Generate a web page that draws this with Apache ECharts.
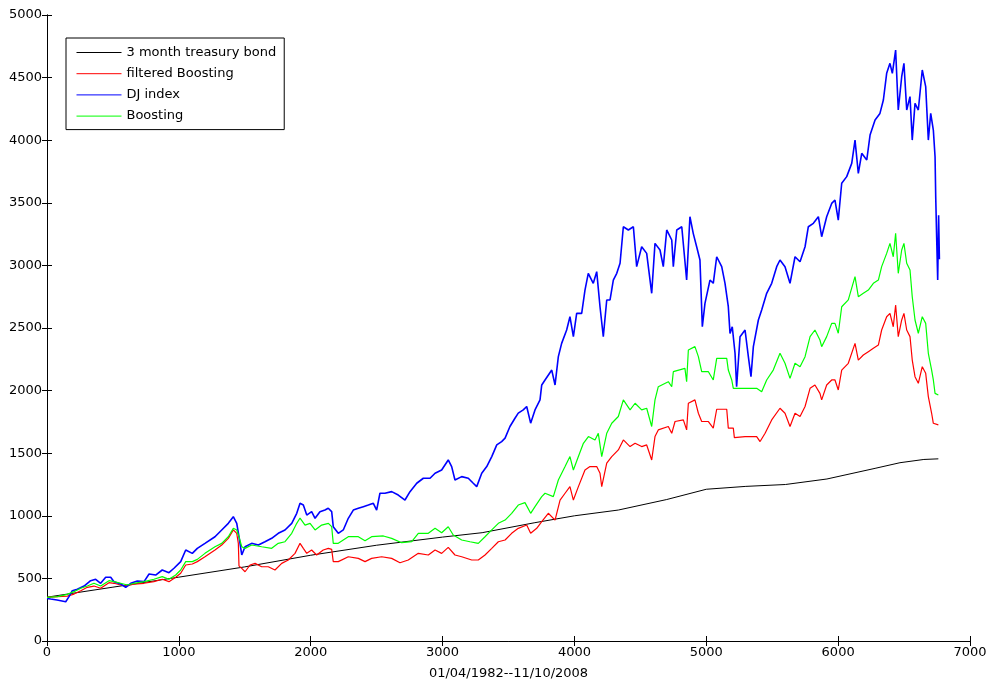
<!DOCTYPE html>
<html>
<head>
<meta charset="utf-8">
<script src="https://cdn.jsdelivr.net/npm/echarts@6/dist/echarts.min.js"></script>
<style>
  html, body { margin: 0; padding: 0; background: #fff; }
  #chart { width: 986px; height: 680px; }
</style>
</head>
<body>
<div id="chart"></div>
<script>
// Trading days since 01/04/1982 and portfolio values for each strategy
const seriesNames = ['3 month treasury bond', 'filtered Boosting', 'DJ index', 'Boosting'];
const xAxisTitle = '01/04/1982--11/10/2008';

const treasuryX = [0, 500, 1000, 1500, 2000, 2500, 3000, 3300, 3700, 4000, 4333, 4700, 5000, 5300, 5600, 5915, 6280, 6469, 6650, 6760];
const treasuryY = [350, 430, 510, 592, 685, 765, 830, 865, 945, 1000, 1046, 1130, 1212, 1235, 1250, 1294, 1379, 1424, 1450, 1455];

const djX = [0, 28, 76, 142, 167, 192, 230, 281, 331, 369, 407, 445, 483, 508, 559, 597, 635, 685, 736, 774, 824, 874, 925, 963, 1014, 1052, 1102, 1140, 1198, 1274, 1325, 1375, 1413, 1439, 1456, 1477, 1502, 1552, 1603, 1653, 1704, 1754, 1805, 1856, 1894, 1919, 1944, 1970, 2007, 2033, 2070, 2108, 2133, 2159, 2171, 2209, 2247, 2285, 2323, 2361, 2399, 2437, 2475, 2500, 2525, 2563, 2614, 2664, 2715, 2753, 2804, 2854, 2905, 2943, 2993, 3043, 3069, 3094, 3145, 3195, 3233, 3259, 3297, 3335, 3373, 3411, 3448, 3474, 3511, 3549, 3574, 3612, 3638, 3668, 3701, 3739, 3752, 3777, 3828, 3853, 3878, 3903, 3941, 3966, 3992, 4017, 4055, 4080, 4105, 4143, 4169, 4194, 4219, 4245, 4270, 4295, 4321, 4346, 4371, 4409, 4447, 4472, 4510, 4548, 4586, 4611, 4649, 4674, 4700, 4738, 4750, 4776, 4814, 4851, 4876, 4901, 4927, 4952, 4970, 4990, 5028, 5053, 5079, 5117, 5142, 5167, 5180, 5197, 5218, 5230, 5256, 5294, 5319, 5339, 5357, 5395, 5420, 5458, 5496, 5534, 5559, 5597, 5635, 5673, 5711, 5749, 5774, 5812, 5850, 5875, 5913, 5951, 5976, 6001, 6027, 6065, 6103, 6128, 6153, 6179, 6217, 6242, 6280, 6317, 6343, 6368, 6393, 6411, 6436, 6456, 6482, 6499, 6520, 6545, 6562, 6583, 6608, 6638, 6664, 6684, 6702, 6722, 6735, 6740, 6747, 6755, 6762, 6768];
const djY = [340, 335, 327, 314, 354, 402, 413, 439, 482, 493, 461, 509, 509, 474, 455, 429, 461, 479, 474, 535, 527, 567, 546, 581, 634, 727, 700, 740, 780, 833, 887, 940, 993, 940, 833, 687, 753, 780, 767, 793, 820, 860, 887, 940, 1020, 1100, 1086, 1006, 1033, 980, 1033, 1046, 1060, 1033, 913, 860, 887, 980, 1046, 1060, 1073, 1086, 1100, 1046, 1180, 1180, 1193, 1166, 1126, 1193, 1260, 1300, 1300, 1340, 1366, 1446, 1393, 1286, 1313, 1300, 1260, 1233, 1340, 1393, 1473, 1566, 1593, 1620, 1713, 1779, 1820, 1846, 1873, 1740, 1846, 1926, 2045, 2085, 2164, 2045, 2271, 2377, 2484, 2590, 2431, 2617, 2617, 2803, 2937, 2857, 2950, 2670, 2430, 2724, 2724, 2883, 2937, 3017, 3309, 3283, 3309, 2990, 3149, 3096, 2777, 3176, 3123, 2990, 3283, 3203, 2990, 3283, 3309, 2883, 3389, 3256, 3149, 3043, 2510, 2697, 2883, 2857, 3069, 2990, 2857, 2670, 2457, 2510, 2298, 2031, 2430, 2484, 2271, 2111, 2351, 2564, 2644, 2777, 2857, 2990, 3043, 2990, 2857, 3069, 3029, 3149, 3309, 3336, 3389, 3229, 3389, 3495, 3522, 3362, 3656, 3709, 3815, 4001, 3735, 3895, 3842, 4041, 4161, 4214, 4321, 4534, 4614, 4534, 4720, 4241, 4507, 4614, 4241, 4348, 4001, 4294, 4241, 4561, 4428, 4001, 4214, 4081, 3868, 3549, 3229, 2883, 3400, 3050];

const fboostX = [0, 78, 154, 205, 256, 306, 356, 407, 470, 508, 559, 609, 660, 736, 811, 874, 925, 976, 1014, 1052, 1102, 1140, 1198, 1274, 1325, 1375, 1413, 1439, 1451, 1456, 1477, 1502, 1540, 1578, 1628, 1678, 1729, 1780, 1830, 1881, 1919, 1944, 1970, 2007, 2045, 2095, 2134, 2159, 2171, 2209, 2285, 2361, 2412, 2462, 2538, 2614, 2677, 2740, 2816, 2892, 2943, 2993, 3043, 3094, 3145, 3221, 3271, 3322, 3373, 3423, 3474, 3524, 3574, 3638, 3668, 3714, 3752, 3802, 3853, 3891, 3929, 3966, 3992, 4030, 4080, 4118, 4169, 4194, 4207, 4245, 4283, 4333, 4371, 4422, 4460, 4510, 4548, 4586, 4611, 4636, 4712, 4738, 4763, 4826, 4851, 4864, 4914, 4940, 4965, 5016, 5053, 5079, 5155, 5167, 5205, 5213, 5294, 5382, 5408, 5446, 5496, 5559, 5597, 5635, 5673, 5711, 5749, 5787, 5824, 5862, 5875, 5913, 5951, 5976, 6001, 6027, 6077, 6128, 6153, 6191, 6229, 6267, 6305, 6330, 6368, 6393, 6418, 6436, 6456, 6482, 6499, 6520, 6545, 6562, 6583, 6608, 6638, 6664, 6684, 6709, 6722, 6735, 6760];
const fboostY = [349, 354, 359, 375, 402, 429, 439, 421, 466, 461, 447, 439, 455, 461, 474, 493, 474, 509, 541, 607, 615, 634, 673, 727, 767, 820, 887, 860, 780, 600, 580, 553, 607, 620, 593, 593, 567, 620, 647, 700, 780, 740, 700, 727, 687, 727, 740, 732, 634, 634, 673, 660, 634, 660, 673, 660, 625, 647, 700, 687, 727, 700, 748, 687, 673, 647, 647, 687, 740, 793, 807, 860, 900, 926, 860, 900, 953, 1020, 966, 1126, 1180, 1233, 1126, 1233, 1366, 1393, 1393, 1340, 1233, 1420, 1473, 1526, 1606, 1553, 1579, 1553, 1566, 1446, 1633, 1686, 1713, 1659, 1753, 1766, 1686, 1899, 1926, 1819, 1753, 1753, 1700, 1851, 1851, 1700, 1700, 1624, 1633, 1633, 1593, 1659, 1766, 1859, 1819, 1713, 1819, 1793, 1873, 2018, 2045, 1978, 1926, 2045, 2085, 2085, 2005, 2164, 2218, 2377, 2244, 2284, 2311, 2338, 2364, 2484, 2590, 2617, 2510, 2684, 2431, 2564, 2617, 2484, 2431, 2244, 2111, 2058, 2191, 2138, 1952, 1819, 1739, 1726, 1726];

const boostX = [0, 78, 154, 205, 256, 306, 356, 407, 470, 508, 559, 609, 660, 736, 811, 874, 925, 976, 1014, 1052, 1102, 1140, 1198, 1274, 1325, 1375, 1413, 1439, 1456, 1477, 1502, 1552, 1628, 1704, 1754, 1805, 1856, 1894, 1919, 1957, 1995, 2033, 2083, 2134, 2159, 2171, 2209, 2285, 2361, 2412, 2462, 2551, 2614, 2690, 2766, 2816, 2892, 2943, 2993, 3043, 3081, 3145, 3208, 3271, 3322, 3373, 3423, 3474, 3524, 3574, 3625, 3668, 3701, 3752, 3777, 3840, 3878, 3929, 3966, 3992, 4030, 4068, 4106, 4156, 4181, 4207, 4245, 4283, 4333, 4371, 4422, 4460, 4510, 4548, 4586, 4611, 4636, 4712, 4738, 4750, 4838, 4851, 4864, 4914, 4940, 4965, 5016, 5053, 5079, 5155, 5167, 5193, 5205, 5294, 5382, 5420, 5458, 5508, 5559, 5597, 5635, 5673, 5711, 5749, 5787, 5824, 5862, 5875, 5913, 5951, 5976, 6001, 6027, 6077, 6128, 6153, 6191, 6229, 6267, 6305, 6330, 6368, 6393, 6418, 6436, 6456, 6482, 6499, 6520, 6545, 6562, 6583, 6608, 6638, 6664, 6684, 6709, 6722, 6735, 6760];
const boostY = [349, 354, 373, 394, 421, 439, 461, 439, 482, 474, 461, 447, 461, 474, 493, 514, 493, 527, 567, 634, 634, 652, 700, 753, 780, 833, 900, 887, 833, 753, 740, 767, 753, 740, 780, 793, 860, 940, 982, 926, 940, 887, 926, 940, 913, 780, 780, 833, 833, 800, 833, 839, 820, 785, 793, 860, 860, 900, 865, 913, 847, 807, 793, 780, 833, 887, 940, 966, 1020, 1086, 1105, 1020, 1073, 1153, 1180, 1153, 1286, 1393, 1473, 1366, 1473, 1579, 1633, 1606, 1659, 1473, 1659, 1739, 1793, 1926, 1846, 1899, 1846, 1859, 1713, 1926, 2031, 2071, 2031, 2151, 2178, 2071, 2324, 2351, 2271, 2151, 2151, 2085, 2258, 2258, 2164, 2085, 2018, 2018, 2018, 1991, 2085, 2164, 2298, 2218, 2098, 2218, 2191, 2271, 2431, 2484, 2404, 2351, 2431, 2537, 2537, 2458, 2670, 2724, 2910, 2750, 2777, 2803, 2857, 2883, 2990, 3096, 3176, 3069, 3256, 2937, 3123, 3176, 3017, 2963, 2750, 2564, 2458, 2590, 2537, 2298, 2164, 2085, 1978, 1965];

function pairs(xs, ys) {
  return xs.map(function (x, i) { return [x, ys[i]]; });
}

const FONT = '"DejaVu Sans", "Liberation Sans", Arial, sans-serif';
const chart = echarts.init(document.getElementById('chart'), null, { renderer: 'canvas' });

const axisCommon = {
  type: 'value',
  axisLine: { show: true, lineStyle: { color: '#000', width: 1 } },
  axisTick: { show: true, inside: true, length: 5, lineStyle: { color: '#000', width: 1 } },
  splitLine: { show: false }
};

function plainNumber(v) { return String(v); }

function lineSeries(name, data, color, width) {
  return {
    name: name,
    type: 'line',
    data: data,
    symbol: 'none',
    showSymbol: false,
    smooth: false,
    lineStyle: { color: color, width: width },
    itemStyle: { color: color },
    emphasis: { disabled: true },
    z: 2
  };
}

chart.setOption({
  animation: false,
  backgroundColor: '#fff',
  textStyle: { fontFamily: FONT },
  grid: { left: 47, right: 16, top: 15, bottom: 39, containLabel: false, outerBoundsMode: 'none' },
  legend: {
    orient: 'vertical',
    left: 66,
    top: 38,
    itemWidth: 45,
    itemHeight: 14,
    itemGap: 8.2,
    padding: [8, 8, 7, 10],
    borderColor: '#000',
    borderWidth: 1,
    borderRadius: 0,
    backgroundColor: '#fff',
    itemStyle: { opacity: 0 },
    lineStyle: { width: 1 },
    textStyle: { fontFamily: FONT, fontSize: 13, color: '#000' },
    data: seriesNames
  },
  xAxis: [
    Object.assign({}, axisCommon, {
      position: 'bottom', min: 0, max: 7000, interval: 1000,
      axisLabel: { color: '#000', fontSize: 13, fontFamily: FONT, margin: 5, formatter: plainNumber },
      name: xAxisTitle, nameLocation: 'middle', nameGap: 26,
      nameTextStyle: { color: '#000', fontSize: 13, fontFamily: FONT }
    }),
    Object.assign({}, axisCommon, {
      position: 'top', min: 0, max: 7000, interval: 1000,
      axisLabel: { show: false }
    })
  ],
  yAxis: [
    Object.assign({}, axisCommon, {
      position: 'left', min: 0, max: 5000, interval: 500,
      axisLabel: { color: '#000', fontSize: 13, fontFamily: FONT, margin: 5, formatter: plainNumber }
    }),
    Object.assign({}, axisCommon, {
      position: 'right', min: 0, max: 5000, interval: 500,
      axisLabel: { show: false }
    })
  ],
  series: [
    lineSeries(seriesNames[0], pairs(treasuryX, treasuryY), '#000000', 1),
    lineSeries(seriesNames[1], pairs(fboostX, fboostY), '#ff0000', 1.2),
    lineSeries(seriesNames[2], pairs(djX, djY), '#0000ff', 1.6),
    lineSeries(seriesNames[3], pairs(boostX, boostY), '#00ff00', 1.2)
  ]
});
</script>
</body>
</html>
